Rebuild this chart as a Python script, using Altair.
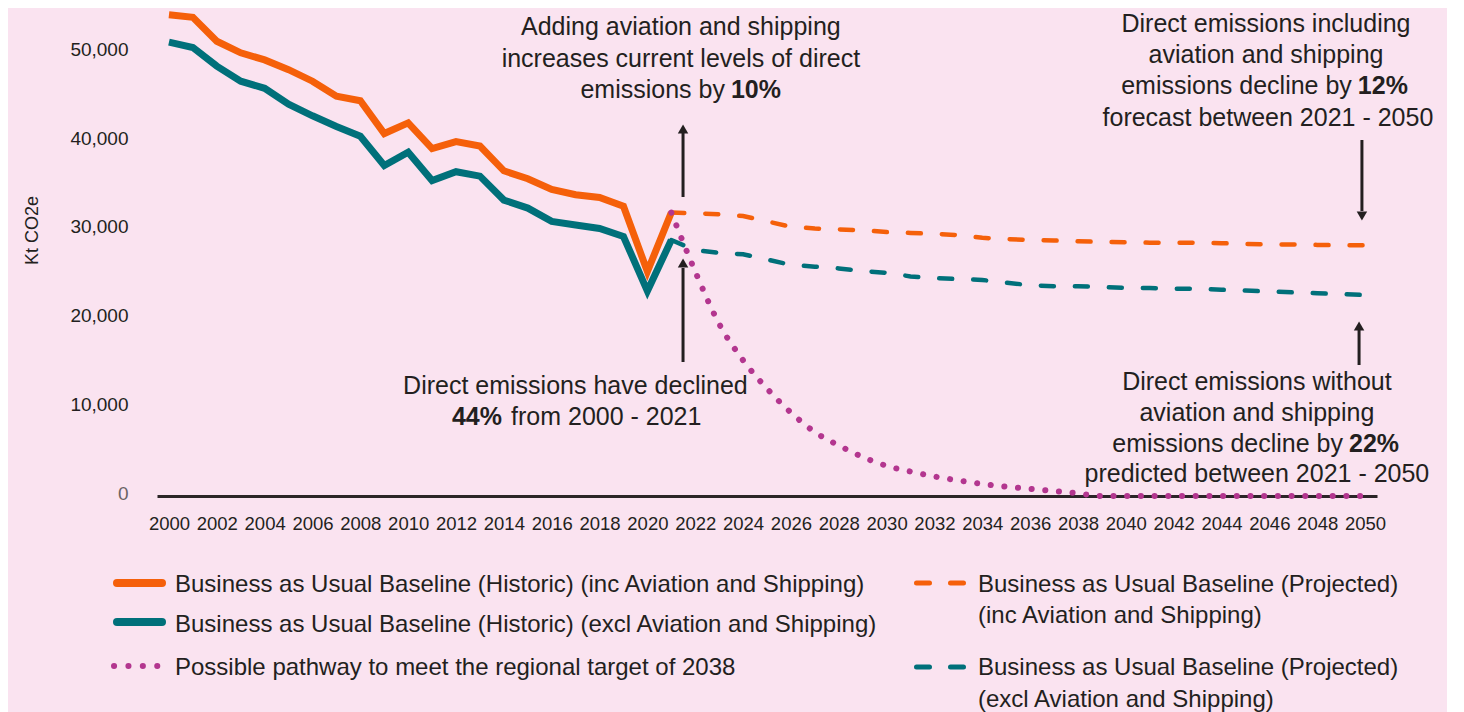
import altair as alt
import pandas as pd

# ---------------- data (kt CO2e) ----------------
YEARS_HIST = list(range(2000, 2022))
HIST_INC = [54250, 53950, 51250, 49950, 49150, 48050, 46750, 45050, 44550, 40850, 42050,
            39150, 39950, 39450, 36650, 35750, 34550, 33950, 33650, 32650, 25300, 31950]
HIST_EXCL = [51150, 50550, 48450, 46750, 45950, 44150, 42850, 41650, 40550, 37250, 38750,
             35550, 36550, 36050, 33350, 32450, 30950, 30550, 30150, 29250, 23100, 28850]

YEARS_PROJ = list(range(2021, 2051))
PROJ_INC = [31950, 31850, 31750, 31550, 30950, 30350, 30150, 30050, 29950, 29750,
            29650, 29550, 29400, 29100, 28950, 28850, 28800, 28700, 28650, 28600,
            28550, 28550, 28550, 28500, 28400, 28350, 28350, 28300, 28250, 28250]
PROJ_EXCL = [28850, 27700, 27400, 27250, 26650, 26050, 25850, 25650, 25350, 25150,
             24750, 24550, 24450, 24350, 24050, 23750, 23650, 23650, 23550, 23450,
             23450, 23350, 23350, 23250, 23150, 23050, 22950, 22850, 22750, 22650]
PATHWAY = [31950, 25300, 19400, 15300, 12100, 9400, 7200, 5700, 4400, 3400,
           2750, 2200, 1750, 1350, 1050, 800, 550, 300, 0, 0,
           0, 0, 0, 0, 0, 0, 0, 0, 0, 0]

SERIES_KEYS = ["hist_inc", "hist_excl", "proj_inc", "proj_excl", "pathway"]
SERIES_LABELS = [
    "Business as Usual Baseline (Historic) (inc Aviation and Shipping)",
    "Business as Usual Baseline (Historic) (excl Aviation and Shipping)",
    "Business as Usual Baseline (Projected)\n(inc Aviation and Shipping)",
    "Business as Usual Baseline (Projected)\n(excl Aviation and Shipping)",
    "Possible pathway to meet the regional target of 2038",
]

# annotation text lines (positioned in data units: year, kt)
ANN_TEXT = [
    "Adding aviation and shipping", "increases current levels of direct", "emissions by", "10%",
    "Direct emissions have declined", "44%", "from 2000 - 2021",
    "Direct emissions including", "aviation and shipping", "emissions decline by", "12%",
    "forecast between 2021 - 2050",
    "Direct emissions without", "aviation and shipping", "emissions decline by", "22%",
    "predicted between 2021 - 2050",
]
ANN_YEAR = [2021.40, 2021.40, 2023.24, 2023.49,
            2016.99, 2013.92, 2014.30,
            2045.86, 2045.86, 2049.45, 2049.70, 2045.94,
            2045.48, 2045.48, 2049.08, 2049.33, 2045.48]
ANN_KT = [51955, 48405, 44855, 44855,
          11552, 8002, 8002,
          52327, 48799, 45272, 45272, 41744,
          12003, 8509, 5015, 5015, 1578]
ANN_ALIGN = ["center", "center", "right", "left",
             "center", "right", "left",
             "center", "center", "right", "left", "center",
             "center", "center", "right", "left", "center"]
ANN_BOLD = [False, False, False, True,
            False, True, False,
            False, False, False, True, False,
            False, False, False, True, False]

ARROW_YEAR = [2021.49, 2021.49, 2049.87, 2049.75]
ARROW_FROM = [33697, 15102, 40121, 14764]
ARROW_TO = [41023, 25696, 32120, 18708]
ARROW_HEAD = [41361, 26259, 31556, 19159]
ARROW_DIR = ["up", "up", "down", "up"]

# ---------------- style / layout ----------------
ORANGE = "#F5600A"
TEAL = "#00707A"
MAGENTA = "#B3368F"
TEXT = "#231F20"
BG = "#FAE3F0"
FONT = "Liberation Sans"
SERIES_COLORS = [ORANGE, TEAL, ORANGE, TEAL, MAGENTA]

# legend layout in pixels relative to the plot origin
LEG_SX = [-40, -40, 759.5, 759.5, -43]
LEG_SX2 = [5, 5, 806.5, 806.5, 1]
LEG_SY = [575, 614, 575, 659, 658]
LEG_TX = [18, 18, 821, 821, 18]
LEG_TY = [583.7, 623.7, 583.7, 667, 667]

# ---------------- tables ----------------
rows = []
for k, yrs, vals in [("hist_inc", YEARS_HIST, HIST_INC), ("hist_excl", YEARS_HIST, HIST_EXCL),
                     ("proj_inc", YEARS_PROJ, PROJ_INC), ("proj_excl", YEARS_PROJ, PROJ_EXCL),
                     ("pathway", YEARS_PROJ, PATHWAY)]:
    for yr, v in zip(yrs, vals):
        rows.append({"series": k, "year": yr, "kt": v})
df = pd.DataFrame(rows)

ann = pd.DataFrame({"text": ANN_TEXT, "year": ANN_YEAR, "kt": ANN_KT,
                    "align": ANN_ALIGN, "bold": ANN_BOLD})
arrows = pd.DataFrame({"year": ARROW_YEAR, "kt": ARROW_FROM, "kt2": ARROW_TO})
heads = pd.DataFrame({"year": ARROW_YEAR, "kt": ARROW_HEAD, "dir": ARROW_DIR})
leg = pd.DataFrame({"series": SERIES_KEYS, "label": SERIES_LABELS, "sx": LEG_SX, "sx2": LEG_SX2,
                    "sy": LEG_SY, "tx": LEG_TX, "ty": LEG_TY})

# ---------------- encodings ----------------
x_enc = alt.X("year:Q",
              scale=alt.Scale(domain=[1999.5, 2050.5], nice=False, zero=False),
              axis=alt.Axis(values=list(range(2000, 2051, 2)), format="d", title=None,
                            labelFontSize=18.5, labelColor=TEXT, labelPadding=18, labelFont=FONT,
                            ticks=False, tickSize=0, grid=False, domainColor="#2B2527",
                            domainWidth=3, labelFlush=False, labelOverlap=False))
y_enc = alt.Y("kt:Q",
              scale=alt.Scale(domain=[0, 55000], nice=False),
              axis=alt.Axis(values=list(range(0, 50001, 10000)),
                            labelExpr="format(datum.value, ',.0f')",
                            labelFontSize=19, labelPadding=29, labelFont=FONT,
                            labelColor={"condition": {"test": "datum.value == 0", "value": "#6A6365"},
                                        "value": TEXT},
                            labelOffset=-3, ticks=False, tickSize=0, domain=False, grid=False,
                            title="Kt CO2e", titleFontSize=18, titleFontWeight="normal",
                            titleColor=TEXT, titleFont=FONT, titleX=-125, titleY=222,
                            titleAlign="center", titleBaseline="middle", titleAngle=270))
color = alt.Color("series:N", scale=alt.Scale(domain=SERIES_KEYS, range=SERIES_COLORS), legend=None)


def only(key):
    return alt.FieldEqualPredicate(field="series", equal=key)


base = alt.Chart(df).encode(x=x_enc, y=y_enc, color=color)
l_hist_inc = base.transform_filter(only("hist_inc")).mark_line(strokeWidth=7, strokeJoin="miter")
l_hist_excl = base.transform_filter(only("hist_excl")).mark_line(strokeWidth=7, strokeJoin="miter")
l_proj = base.transform_filter(
    alt.FieldOneOfPredicate(field="series", oneOf=["proj_inc", "proj_excl"])
).mark_line(strokeWidth=4.5, strokeDash=[13, 21], strokeCap="round")
l_path = base.transform_filter(only("pathway")).mark_line(
    strokeWidth=6, strokeDash=[0.1, 13.6], strokeCap="round", interpolate="monotone")

shafts = alt.Chart(arrows).mark_rule(strokeWidth=3, color=TEXT).encode(
    x=x_enc, y=y_enc, y2="kt2:Q")
arrow_heads = alt.Chart(heads).mark_point(filled=True, size=110, color=TEXT, opacity=1,
                                          strokeWidth=0).encode(
    x=x_enc, y=y_enc,
    shape=alt.Shape("dir:N", scale=alt.Scale(domain=["up", "down"],
                                             range=["triangle-up", "triangle-down"]), legend=None))

ann_layers = []
for a in ["center", "left", "right"]:
    for b in [False, True]:
        sub = ann[(ann["align"] == a) & (ann["bold"] == b)]
        if len(sub) == 0:
            continue
        ann_layers.append(
            alt.Chart(sub).mark_text(align=a, baseline="alphabetic", fontSize=25, font=FONT,
                                     fontWeight="bold" if b else "normal", color=TEXT)
            .encode(x=x_enc, y=y_enc, text="text:N"))

lx = alt.X("sx:Q", scale=None, axis=None)
ly = alt.Y("sy:Q", scale=None, axis=None)
leg_base = alt.Chart(leg).encode(x=lx, x2="sx2:Q", y=ly, color=color)
leg_hist = leg_base.transform_filter(
    alt.FieldOneOfPredicate(field="series", oneOf=["hist_inc", "hist_excl"])
).mark_rule(strokeWidth=8, strokeCap="round")
leg_proj = leg_base.transform_filter(
    alt.FieldOneOfPredicate(field="series", oneOf=["proj_inc", "proj_excl"])
).mark_rule(strokeWidth=5, strokeDash=[13, 21], strokeCap="round")
leg_path = leg_base.transform_filter(only("pathway")).mark_rule(
    strokeWidth=6, strokeDash=[0.1, 14.3], strokeCap="round")
leg_text = alt.Chart(leg).mark_text(align="left", baseline="alphabetic", fontSize=24, font=FONT,
                                    lineBreak="\n", lineHeight=31.5, color=TEXT).encode(
    x=alt.X("tx:Q", scale=None, axis=None), y=alt.Y("ty:Q", scale=None, axis=None),
    text="label:N")

chart = alt.layer(
    l_hist_inc, l_hist_excl, l_proj, l_path, shafts, arrow_heads, *ann_layers,
    leg_hist, leg_proj, leg_path, leg_text
).properties(
    width=1220, height=488,
    padding={"left": 149, "top": 0, "right": 70, "bottom": 216},
    autosize=alt.AutoSizeParams(type="none"),
    background=BG,
).configure(font=FONT).configure_view(stroke=None)

chart.save("out.html", embed_options={"renderer": "svg", "actions": False})
